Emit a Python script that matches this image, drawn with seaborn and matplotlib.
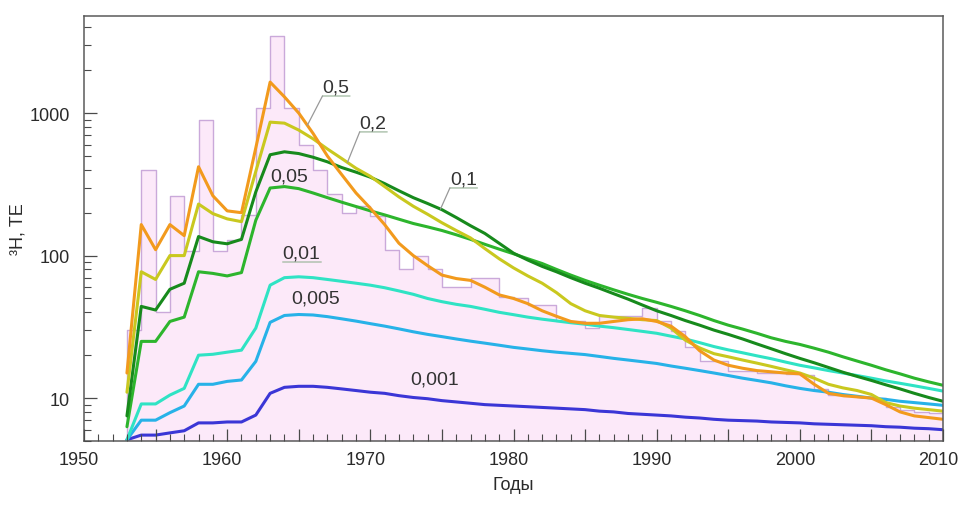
import numpy as np
import pandas as pd
import matplotlib
matplotlib.use("Agg")
import matplotlib.pyplot as plt
import matplotlib.transforms as mtransforms
import seaborn as sns
from matplotlib.ticker import MultipleLocator, FuncFormatter, LogLocator, NullFormatter, FixedLocator

# ---------------- data ----------------
years = list(range(1953, 2011))

# tritium in precipitation (annual steps), TU
precip = [30, 400, 40, 260, 108, 890, 107, 128, 192, 1080,
          3450, 1080, 600, 400, 272, 200, 224, 191, 110, 80,
          100, 80, 60, 60, 70, 70, 51, 50, 45, 45,
          34.5, 34.5, 31, 37.5, 37.5, 37.5, 43, 34.5, 29.4, 22.7,
          18.1, 18.1, 15.5, 15.5, 15, 15, 14.8, 14.5, 11.5, 10.5,
          10.3, 10.2, 10, 8.6, 8.3, 8, 7.9, 7.8]

c_05 = [15, 165, 110, 165, 138, 420, 263, 206, 200, 570,
        1650, 1300, 1000, 720, 500, 370, 275, 215, 165, 122,
        100, 85, 73, 69, 67, 60, 53, 50, 46, 41,
        37.5, 34.5, 33.5, 33.5, 34.5, 35.5, 36, 34.5, 32, 27,
        21.5, 18.5, 17, 16.2, 15.6, 15.3, 15, 14.8, 12.5, 10.8,
        10.4, 10.2, 10, 9, 8, 7.5, 7.3, 7.1]

c_02 = [11, 77, 68, 100, 100, 230, 197, 181, 173, 390,
        864, 850, 760, 660, 560, 480, 410, 360, 305, 258,
        222, 195, 170, 150, 133, 112, 95, 82, 72, 64,
        55, 46, 41, 38, 37, 36.3, 35.5, 35, 31, 25.5,
        22.5, 20.5, 19.5, 18.5, 17.6, 16.7, 15.8, 15, 13.8, 12.5,
        11.8, 11.3, 10.6, 9.3, 8.8, 8.5, 8.3, 8.1]

c_01 = [7.5, 44, 41.5, 58, 64, 136, 125, 121, 130, 280,
        510, 535, 520, 490, 455, 415, 385, 355, 320, 285,
        255, 232, 210, 185, 162, 143, 122, 104, 93, 84,
        77, 70, 64, 59, 54, 49.5, 45, 41, 38, 35,
        32.5, 30, 28, 26, 24, 22.2, 20.5, 19, 17.7, 16.4,
        15.2, 14.2, 13.3, 12.4, 11.6, 10.8, 10.1, 9.5]

c_005 = [6.3, 25, 25, 34.5, 37, 77, 75, 72, 76, 177,
         298, 305, 295, 275, 255, 237, 221, 206, 193, 180,
         168, 159, 150, 140, 130, 120, 111, 103, 95, 88,
         80, 73, 67, 62, 57.5, 53.5, 50, 47, 44, 41,
         38, 35, 32.5, 30.5, 28.5, 26.5, 25, 23.8, 22.4, 21,
         19.5, 18.2, 17, 15.8, 14.8, 13.8, 13, 12.3]

c_001 = [5.1, 9.1, 9.1, 10.5, 11.7, 20, 20.3, 21, 21.7, 31,
         62, 70, 71, 70, 68, 66, 64, 62, 59.5, 56.5,
         53.5, 50, 47.5, 45.5, 44, 42, 40, 38.5, 37, 35.8,
         34.8, 33.8, 33, 32, 31.2, 30.3, 29.4, 28.5, 27.2, 26,
         24.5, 23, 21.8, 20.8, 19.8, 18.9, 17.9, 17, 16.3, 15.6,
         15, 14.4, 13.8, 13.2, 12.7, 12.2, 11.7, 11.2]

c_0005 = [5.1, 7, 7, 7.9, 8.8, 12.5, 12.5, 13.1, 13.4, 18.1,
          34, 38, 38.6, 38.3, 37.3, 36, 34.7, 33.3, 32, 30.6,
          29.2, 28, 27, 26, 25.1, 24.3, 23.5, 22.7, 22.1, 21.5,
          21, 20.6, 20.2, 19.6, 19, 18.5, 18, 17.5, 16.8, 16.2,
          15.6, 15, 14.4, 13.8, 13.3, 12.8, 12.2, 11.7, 11.3, 11,
          10.6, 10.3, 10, 9.8, 9.5, 9.3, 9.1, 8.9]

c_0001 = [5.1, 5.5, 5.5, 5.7, 5.9, 6.7, 6.7, 6.8, 6.8, 7.6,
          10.8, 11.9, 12.1, 12.1, 11.9, 11.6, 11.3, 11, 10.8, 10.4,
          10.1, 9.9, 9.6, 9.4, 9.2, 9, 8.9, 8.8, 8.7, 8.6,
          8.5, 8.4, 8.3, 8.1, 8.0, 7.8, 7.7, 7.6, 7.5, 7.35,
          7.25, 7.1, 7.0, 6.95, 6.9, 6.8, 6.75, 6.7, 6.6, 6.55,
          6.5, 6.45, 6.4, 6.3, 6.25, 6.15, 6.1, 6.0]

params = ["0,001", "0,005", "0,01", "0,05", "0,1", "0,2", "0,5"]
curves = [c_0001, c_0005, c_001, c_005, c_01, c_02, c_05]
colors = ["#3b36d6", "#27b2e8", "#2fe3c4", "#2db52d", "#178a1c", "#c9c81f", "#f29a1d"]

x_ticks_labels = ["1950", "1960", "1970", "1980", "1990", "2000", "2010"]
y_tick_values = [10, 100, 1000]

# ---------------- style ----------------
sns.set_style("ticks")
plt.rcParams["font.family"] = ["Liberation Sans", "DejaVu Sans"]

fig = plt.figure(figsize=(9.6, 5.06), dpi=100)
ax = fig.add_axes([84 / 960, 1 - 442 / 506, (943 - 84) / 960, (442 - 17) / 506])

# precipitation histogram (annual steps)
edges = years + [years[-1] + 1]
sns.histplot(x=years, weights=precip, bins=edges, element="step", fill=True,
             color="#fce9f9", edgecolor="#caa9da", alpha=1, linewidth=1.0, ax=ax)

# model curves
df = pd.DataFrame({
    "year": np.tile(years, len(params)),
    "value": np.concatenate(curves),
    "param": np.repeat(params, len(years)),
})
sns.lineplot(data=df, x="year", y="value", hue="param", hue_order=params,
             palette=dict(zip(params, colors)), linewidth=2.2, legend=False,
             estimator=None, ax=ax)

ax.set_yscale("log")
ax.set_xlim(1950, 2010)
ax.set_ylim(5, 4800)
ax.set_axisbelow(False)

# ticks
ax.xaxis.set_major_locator(MultipleLocator(5))
ax.xaxis.set_minor_locator(MultipleLocator(1))
ax.xaxis.set_major_formatter(FuncFormatter(
    lambda v, p: str(int(round(v))) if str(int(round(v))) in x_ticks_labels else ""))
ax.yaxis.set_major_locator(FixedLocator(y_tick_values))
ax.yaxis.set_major_formatter(FuncFormatter(lambda v, p: f"{int(round(v))}"))
ax.yaxis.set_minor_locator(LogLocator(base=10, subs=np.arange(2, 10)))
ax.yaxis.set_minor_formatter(NullFormatter())
ax.tick_params(which="major", direction="in", length=9, width=0.9, color="#4a4a4a",
               labelsize=13, labelcolor="#2a2a2a")
ax.tick_params(which="minor", direction="in", length=5, width=0.8, color="#4a4a4a")
ax.tick_params(axis="x", which="major", pad=7)
ax.tick_params(axis="y", which="major", pad=10)
for s in ax.spines.values():
    s.set_visible(True)
    s.set_color("#5a5a5a")
    s.set_linewidth(1.1)

# nudge x tick labels slightly left, as in the reference
shift = mtransforms.ScaledTranslation(-5 / 100, 0, fig.dpi_scale_trans)
for lab in ax.get_xticklabels():
    lab.set_transform(lab.get_transform() + shift)

ax.set_xlabel("Годы", fontsize=13, color="#2a2a2a", labelpad=6)
ax.set_ylabel("³H, ТЕ", fontsize=13, color="#2a2a2a", labelpad=2)

# curve labels
def on_curve(xv, curve):
    return 10 ** np.interp(xv, years, np.log10(curve))

labels = [
    # text, x, y, leader target x, curve, underline
    ("0,5", 1967.6, 1520, 1965.6, c_05, True),
    ("0,2", 1970.2, 851, 1968.4, c_02, True),
    ("0,1", 1976.5, 344, 1974.9, c_01, True),
    ("0,05", 1964.3, 361, None, None, False),
    ("0,01", 1965.2, 104, None, None, True),
    ("0,005", 1966.2, 50.4, None, None, False),
    ("0,001", 1974.5, 13.6, None, None, False),
]
for txt, tx, ty, lx, curve, under in labels:
    t = ax.text(tx, ty, txt, fontsize=14, color="#333333", ha="center", va="center", zorder=5)
    if under:
        ax.annotate("", xy=(1.02, -0.02), xycoords=t, xytext=(0.0, -0.02), textcoords=t,
                    arrowprops=dict(arrowstyle="-", color="#9fb89f", lw=0.9,
                                    shrinkA=0, shrinkB=0))
    if lx is not None:
        ax.annotate("", xy=(lx, on_curve(lx, curve)), xycoords="data",
                    xytext=(0.0, -0.02), textcoords=t,
                    arrowprops=dict(arrowstyle="-", color="#999999", lw=0.9,
                                    shrinkA=0, shrinkB=0))

fig.savefig("out.png", dpi=100)
